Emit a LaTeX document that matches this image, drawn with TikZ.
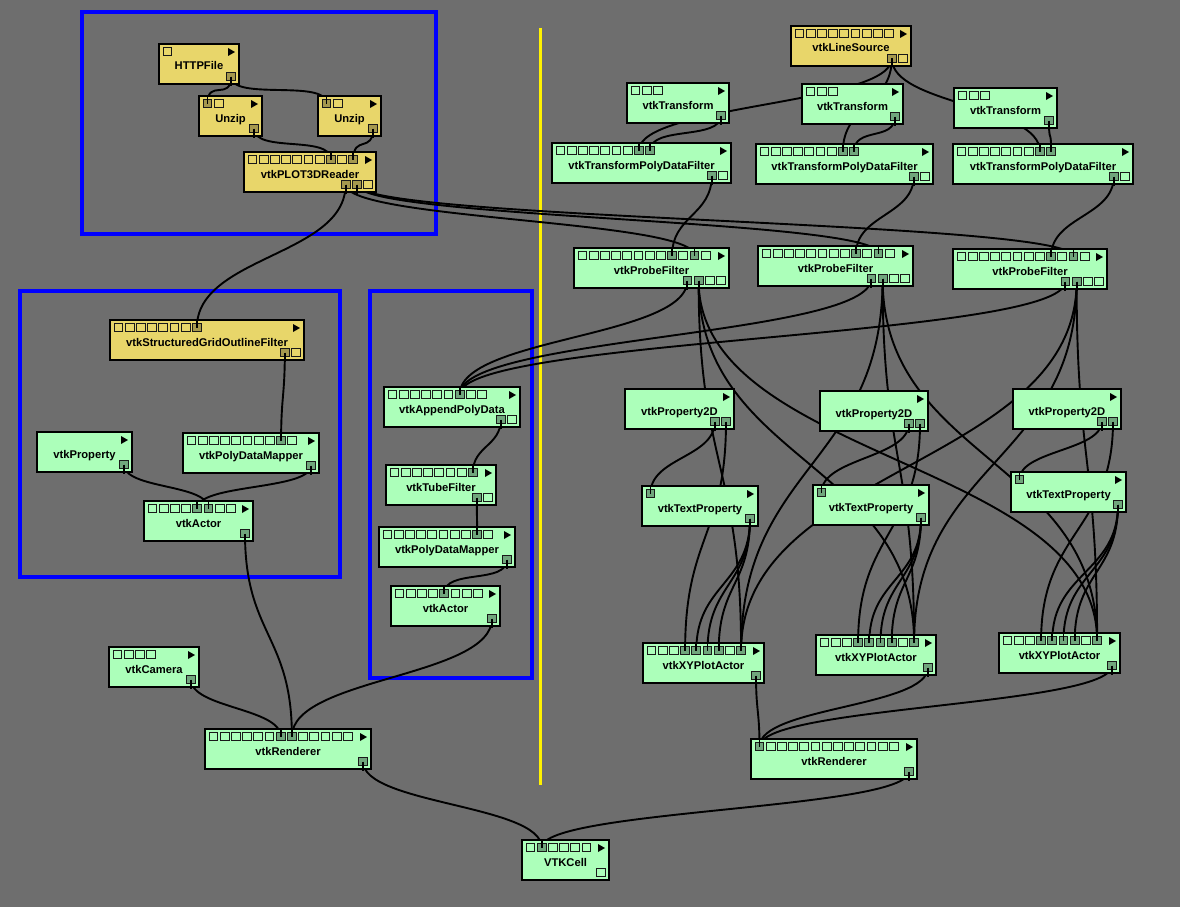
\documentclass[tikz,border=0pt]{standalone}
\usepackage{fontspec}
\setmainfont{Liberation Sans}
\usetikzlibrary{positioning,calc}

\definecolor{bgc}{RGB}{110,110,110}
\definecolor{modg}{RGB}{172,255,186}
\definecolor{modgdk}{RGB}{112,166,124}
\definecolor{mody}{RGB}{232,214,106}
\definecolor{modydk}{RGB}{165,152,78}

\pgfdeclarelayer{bg}
\pgfdeclarelayer{wires}
\pgfsetlayers{bg,wires,main}

\newcommand{\vmod}[9]{%
  \node[modbox, fill=#8, minimum width=#4pt] (#1) at (#2,#3) {};
  \node[modtext] (#1-l) at ($(#1.south)+(0,-14)$) {#5};
  \fill ($(#1.north east)+(-11,4)$) -- ++(7,4) -- ++(-7,4) -- cycle;
  \ifnum#6>0
    \foreach \k in {1,...,#6}
      \node[port] (#1-i\k) at ($(#1.north west)+({8.5+11.2*(\k-1)},7.5)$) {};
  \fi
  \foreach \k in {1,...,#7}
    \node[port] (#1-o\k) at ($(#1.south east)+({-8-11.2*(#7-\k)},-7.5)$) {};
  \foreach \p in {#9}
    \filldraw[portline, fill=#8dk] (#1-\p.south west) rectangle (#1-\p.north east);
}

\newcommand{\wire}[2]{%
  \begin{pgfonlayer}{wires}
    \draw[wire] let \p1=(#1.center), \p2=(#2.center), \n1={max(25pt,0.5*abs(\y1-\y2))} in
      (\p1) .. controls (\x1,\y1-\n1) and (\x2,\y2+\n1) .. (\p2);
  \end{pgfonlayer}
  \draw[wire] (#1.center) -- ++(0,9);
  \draw[wire] (#2.center) -- ++(0,-9);
}

\begin{document}
\begin{tikzpicture}[x=1pt,y=-1pt,
  modbox/.style={draw=black, line width=1.6pt, minimum height=40pt, inner sep=0pt, outer sep=0pt, anchor=north west},
  modtext/.style={anchor=base, inner sep=0pt, font=\fontsize{11.2}{13}\selectfont\bfseries},
  port/.style={draw=black!90, line width=0.9pt, minimum size=8.8pt, inner sep=0pt, outer sep=0pt},
  portline/.style={draw=black!90, line width=0.9pt},
  wire/.style={draw=black, line width=1.9pt},
  grp/.style={draw=blue, line width=3.5pt},
  divider/.style={draw=yellow, line width=3pt}]

\useasboundingbox (0,0) rectangle (1180,907);
\begin{pgfonlayer}{bg}
  \fill[bgc] (0,0) rectangle (1180,907);
  \draw[grp] (82,12) rectangle (436,234);
  \draw[grp] (20,291) rectangle (340,577);
  \draw[grp] (370,291) rectangle (532,678);
  \draw[divider] (540,28) -- (540,785);
\end{pgfonlayer}

\vmod{http}{159}{44}{80}{HTTPFile}{1}{1}{mody}{o1}
\vmod{unzipa}{199}{96}{63}{Unzip}{2}{1}{mody}{i1,o1}
\vmod{unzipb}{318}{96}{63}{Unzip}{2}{1}{mody}{i1,o1}
\vmod{reader}{244}{152}{132}{vtkPLOT3DReader}{10}{3}{mody}{i8,i10,o1,o2}
\vmod{sgof}{110}{320}{194}{vtkStructuredGridOutlineFilter}{8}{2}{mody}{i8,o1}
\vmod{prop}{37}{432}{95}{vtkProperty}{0}{1}{modg}{o1}
\vmod{pdma}{183}{433}{136}{vtkPolyDataMapper}{10}{1}{modg}{i9,o1}
\vmod{acta}{144}{501}{109}{vtkActor}{8}{1}{modg}{i5,i6,o1}
\vmod{apd}{384}{387}{136}{vtkAppendPolyData}{9}{2}{modg}{i7,o1}
\vmod{tube}{386}{465}{110}{vtkTubeFilter}{8}{2}{modg}{i8,o1}
\vmod{pdmb}{379}{527}{136}{vtkPolyDataMapper}{10}{1}{modg}{i9,o1}
\vmod{actb}{391}{586}{109}{vtkActor}{8}{1}{modg}{i5,o1}
\vmod{cam}{109}{647}{90}{vtkCamera}{4}{1}{modg}{o1}
\vmod{rena}{205}{729}{166}{vtkRenderer}{13}{1}{modg}{i7,i8,o1}
\vmod{cell}{522}{840}{87}{VTKCell}{6}{1}{modg}{i2}
\vmod{renb}{751}{739}{166}{vtkRenderer}{13}{1}{modg}{i1,o1}
\vmod{lsrc}{791}{26}{120}{vtkLineSource}{9}{2}{mody}{o1}
\vmod{tfa}{627}{83}{102}{vtkTransform}{3}{1}{modg}{o1}
\vmod{tfb}{802}{84}{101}{vtkTransform}{3}{1}{modg}{o1}
\vmod{tfc}{954}{88}{103}{vtkTransform}{3}{1}{modg}{o1}
\vmod{tpa}{552}{143}{179}{vtkTransformPolyDataFilter}{9}{2}{modg}{i8,i9,o1}
\vmod{tpb}{756}{144}{177}{vtkTransformPolyDataFilter}{9}{2}{modg}{i8,i9,o1}
\vmod{tpc}{953}{144}{180}{vtkTransformPolyDataFilter}{9}{2}{modg}{i8,i9,o1}
\vmod{pfa}{574}{248}{155}{vtkProbeFilter}{12}{4}{modg}{i9,i11,o1,o2}
\vmod{pfb}{758}{246}{155}{vtkProbeFilter}{12}{4}{modg}{i9,i11,o1,o2}
\vmod{pfc}{953}{249}{154}{vtkProbeFilter}{12}{4}{modg}{i9,i11,o1,o2}
\vmod{p2a}{625}{389}{109}{vtkProperty2D}{0}{2}{modg}{o1,o2}
\vmod{p2b}{820}{391}{108}{vtkProperty2D}{0}{2}{modg}{o1,o2}
\vmod{p2c}{1013}{389}{108}{vtkProperty2D}{0}{2}{modg}{o1,o2}
\vmod{txa}{642}{486}{116}{vtkTextProperty}{1}{1}{modg}{i1,o1}
\vmod{txb}{813}{485}{116}{vtkTextProperty}{1}{1}{modg}{i1,o1}
\vmod{txc}{1011}{472}{115}{vtkTextProperty}{1}{1}{modg}{i1,o1}
\vmod{xya}{643}{643}{121}{vtkXYPlotActor}{9}{1}{modg}{i4,i5,i6,i7,i9,o1}
\vmod{xyb}{816}{635}{120}{vtkXYPlotActor}{9}{1}{modg}{i4,i5,i6,i7,i9,o1}
\vmod{xyc}{999}{633}{121}{vtkXYPlotActor}{9}{1}{modg}{i4,i5,i6,i7,i9,o1}

\wire{http-o1}{unzipa-i1}
\wire{http-o1}{unzipb-i1}
\wire{unzipa-o1}{reader-i8}
\wire{unzipb-o1}{reader-i10}
\wire{reader-o1}{sgof-i8}
\wire{reader-o1}{pfa-i11}
\wire{reader-o2}{pfb-i11}
\wire{reader-o2}{pfc-i11}
\wire{sgof-o1}{pdma-i9}
\wire{prop-o1}{acta-i6}
\wire{pdma-o1}{acta-i5}
\wire{acta-o1}{rena-i8}
\wire{cam-o1}{rena-i7}
\wire{actb-o1}{rena-i8}
\wire{rena-o1}{cell-i2}
\wire{apd-o1}{tube-i8}
\wire{tube-o1}{pdmb-i9}
\wire{pdmb-o1}{actb-i5}
\wire{pfa-o1}{apd-i7}
\wire{pfb-o1}{apd-i7}
\wire{pfc-o1}{apd-i7}
\wire{lsrc-o1}{tpa-i8}
\wire{lsrc-o1}{tpb-i8}
\wire{lsrc-o1}{tpc-i8}
\wire{tfa-o1}{tpa-i9}
\wire{tfb-o1}{tpb-i9}
\wire{tfc-o1}{tpc-i9}
\wire{tpa-o1}{pfa-i9}
\wire{tpb-o1}{pfb-i9}
\wire{tpc-o1}{pfc-i9}
\wire{pfa-o2}{xya-i9}
\wire{pfa-o2}{xyb-i9}
\wire{pfa-o2}{xyc-i9}
\wire{pfb-o2}{xya-i9}
\wire{pfb-o2}{xyb-i9}
\wire{pfb-o2}{xyc-i9}
\wire{pfc-o2}{xya-i9}
\wire{pfc-o2}{xyb-i9}
\wire{pfc-o2}{xyc-i9}
\wire{p2a-o1}{txa-i1}
\wire{p2b-o1}{txb-i1}
\wire{p2c-o1}{txc-i1}
\wire{p2a-o2}{xya-i4}
\wire{p2b-o2}{xyb-i4}
\wire{p2c-o2}{xyc-i4}
\wire{txa-o1}{xya-i5}
\wire{txa-o1}{xya-i6}
\wire{txa-o1}{xya-i7}
\wire{txb-o1}{xyb-i5}
\wire{txb-o1}{xyb-i6}
\wire{txb-o1}{xyb-i7}
\wire{txc-o1}{xyc-i5}
\wire{txc-o1}{xyc-i6}
\wire{txc-o1}{xyc-i7}
\wire{xya-o1}{renb-i1}
\wire{xyb-o1}{renb-i1}
\wire{xyc-o1}{renb-i1}
\wire{renb-o1}{cell-i2}

\end{tikzpicture}
\end{document}
